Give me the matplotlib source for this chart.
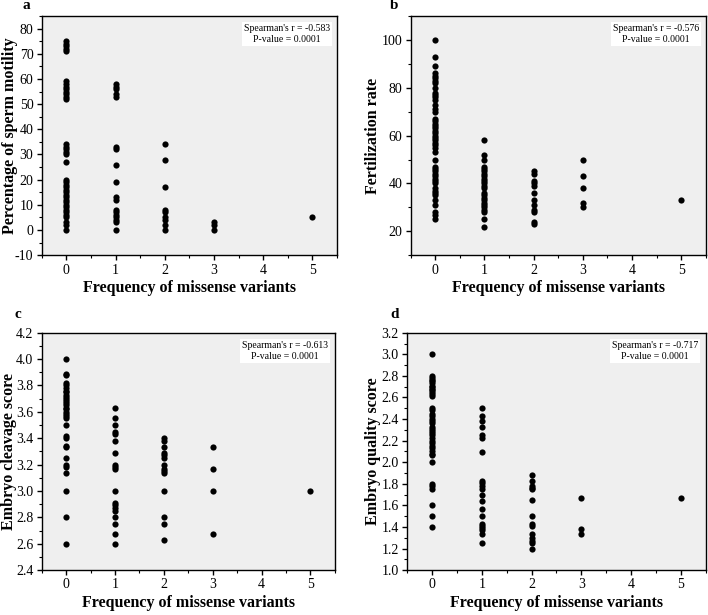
#!/usr/bin/env python3
"""
Missense variant frequency vs. sperm / embryo outcomes (4 panels)
"""
import matplotlib
matplotlib.use("Agg")
import matplotlib.pyplot as plt

plt.rcParams['font.family'] = ['Liberation Serif', 'DejaVu Serif']

# ---------- data ----------
# panel a: percentage of sperm motility
motility_x = [0] * 38 + [1] * 18 + [2] * 9 + [3] * 3 + [5]
motility_y = [71, 72, 73, 74, 75,
              52, 53, 54, 55, 56, 57, 58, 59,
              30, 31, 32, 33, 34, 27,
              0, 2, 3, 5, 6, 7, 8, 9, 10, 11, 12, 13, 14, 15, 16, 17, 18, 19, 20,
              53, 54, 56, 57, 58, 32, 33, 26, 19, 12, 13, 3, 4, 5, 6, 7, 8, 0,
              34, 28, 17, 8, 7, 5, 4, 2, 0,
              3, 2, 0,
              5]

# panel b: fertilization rate
fert_0 = [100, 93, 89, 86, 85, 84, 83, 82, 80, 78, 77, 76, 75, 73, 71, 70,
          67, 66, 65, 64, 63, 62, 61, 60, 59, 58, 57, 56, 55, 53, 50,
          47, 46, 45, 44, 43, 42, 41, 40, 38, 37, 36, 35, 33, 31, 28, 27, 25]
fert_1 = [58, 52, 50, 47, 46, 45, 44, 43, 42, 41, 40, 39, 38, 36, 35, 34,
          33, 32, 31, 30, 29, 28, 25, 22]
fert_2 = [45, 44, 41, 40, 39, 36, 33, 31, 29, 28, 24, 23]
fert_3 = [50, 43, 38, 32, 30]
fert_5 = [33]

# panel c: embryo cleavage score
cleav_0 = [4.0, 3.89, 3.88, 3.82, 3.80, 3.78, 3.76, 3.75, 3.73, 3.71, 3.70,
           3.68, 3.67, 3.65, 3.63, 3.62, 3.60, 3.58, 3.57, 3.55, 3.50, 3.42,
           3.40, 3.34, 3.33, 3.25, 3.20, 3.18, 3.14, 3.0, 2.8, 2.6]
cleav_1 = [3.63, 3.55, 3.50, 3.45, 3.43, 3.38, 3.29, 3.20, 3.18, 3.17, 3.0,
           2.91, 2.89, 2.87, 2.85, 2.80, 2.75, 2.67, 2.60]
cleav_2 = [3.40, 3.38, 3.33, 3.29, 3.27, 3.25, 3.20, 3.17, 3.15, 3.14, 3.0,
           2.80, 2.75, 2.63]
cleav_3 = [3.33, 3.17, 3.0, 2.67]
cleav_5 = [3.0]

# panel d: embryo quality score
qual_0 = [3.0, 2.80, 2.78, 2.76, 2.75, 2.73, 2.71, 2.70, 2.68, 2.67, 2.65,
          2.63, 2.61, 2.50, 2.48, 2.45, 2.43, 2.40, 2.38, 2.36, 2.33, 2.31,
          2.29, 2.27, 2.25, 2.22, 2.20, 2.18, 2.15, 2.13, 2.10, 2.08, 2.07,
          2.0, 1.80, 1.78, 1.75, 1.60, 1.50, 1.40]
qual_1 = [2.50, 2.43, 2.38, 2.33, 2.25, 2.22, 2.09, 1.83, 1.81, 1.78, 1.75,
          1.70, 1.64, 1.57, 1.50, 1.43, 1.41, 1.39, 1.37, 1.33, 1.25]
qual_2 = [1.88, 1.83, 1.78, 1.76, 1.75, 1.65, 1.50, 1.43, 1.41, 1.33, 1.30,
          1.27, 1.25, 1.20]
qual_3 = [1.67, 1.38, 1.33]
qual_5 = [1.67]


def stack(groups):
    xs, ys = [], []
    for x, vals in groups:
        xs += [x] * len(vals)
        ys += vals
    return xs, ys


fert_x, fert_y = stack([(0, fert_0), (1, fert_1), (2, fert_2), (3, fert_3), (5, fert_5)])
cleav_x, cleav_y = stack([(0, cleav_0), (1, cleav_1), (2, cleav_2), (3, cleav_3), (5, cleav_5)])
qual_x, qual_y = stack([(0, qual_0), (1, qual_1), (2, qual_2), (3, qual_3), (5, qual_5)])

panels = [
    ('a', motility_x, motility_y, 'Percentage of sperm motility', (-10, 85), range(-10, 81, 10), 5,
     "Spearman's r = -0.583", '%g'),
    ('b', fert_x, fert_y, 'Fertilization rate', (10, 110), range(20, 101, 20), 10,
     "Spearman's r = -0.576", '%g'),
    ('c', cleav_x, cleav_y, 'Embryo cleavage score', (2.4, 4.2), [2.4 + 0.2 * i for i in range(10)], 0.1,
     "Spearman's r = -0.613", '%.1f'),
    ('d', qual_x, qual_y, 'Embryo quality score', (1.0, 3.2), [1.0 + 0.2 * i for i in range(12)], 0.1,
     "Spearman's r = -0.717", '%.1f'),
]

# axes boxes in figure fractions [left, bottom, width, height]
boxes = [
    [0.059, 0.585, 0.417, 0.389],
    [0.580, 0.585, 0.417, 0.389],
    [0.059, 0.073, 0.414, 0.386],
    [0.575, 0.073, 0.422, 0.386],
]
letter_pos = [(0.032, 1.002), (0.551, 1.002), (0.02, 0.5), (0.551, 0.5)]
ylabel_x = [-0.082, -0.10, -0.084, -0.086]

fig = plt.figure(figsize=(7.08, 6.15), dpi=100)

for (tag, xs, ys, ylabel, ylim, yticks, yminor, rtext, fmt), box, lp, yl in zip(panels, boxes, letter_pos, ylabel_x):
    ax = fig.add_axes(box)
    ax.set_facecolor('#efefef')
    ax.scatter(xs, ys, s=20, color='black', zorder=3, linewidths=0)
    ax.set_xlim(-0.5, 5.5)
    ax.set_ylim(*ylim)
    ax.set_xticks([0, 1, 2, 3, 4, 5])
    ax.set_xticks([-0.5 + 0.5 * i for i in range(13)], minor=True)
    ax.set_yticks(list(yticks))
    ax.yaxis.set_minor_locator(matplotlib.ticker.MultipleLocator(yminor))
    ax.yaxis.set_major_formatter(matplotlib.ticker.FormatStrFormatter(fmt))
    ax.tick_params(which='major', direction='out', length=3.5, width=1, labelsize=10, pad=2.5)
    ax.tick_params(which='minor', direction='out', length=2, width=0.8)
    for sp in ax.spines.values():
        sp.set_linewidth(1)
    ax.set_ylabel(ylabel, fontsize=11.5, fontweight='bold')
    ax.yaxis.set_label_coords(yl, 0.5)
    ax.set_xlabel('Frequency of missense variants', fontsize=11.5, fontweight='bold')
    ax.xaxis.set_label_coords(0.5, -0.105)
    ax.text(0.83, 0.965, rtext + '\nP-value = 0.0001', transform=ax.transAxes,
            ha='center', va='top', fontsize=7, linespacing=1.25,
            bbox=dict(facecolor='white', edgecolor='none', pad=1.5))
    fig.text(lp[0], lp[1], tag, fontsize=11, fontweight='bold', va='top')

plt.savefig('out.png', dpi=100)
plt.close()
